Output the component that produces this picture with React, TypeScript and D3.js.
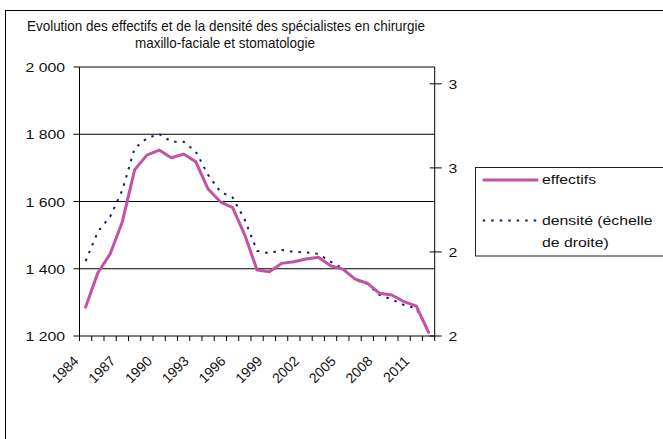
import React from "react";
import * as d3 from "d3";

// Years on the category axis
const years: number[] = d3.range(1984, 2013);

// Number of specialists (left scale)
const effectifs: number[] = [
  1286, 1388, 1444, 1540, 1694, 1738, 1753, 1730, 1741, 1718,
  1637, 1599, 1582, 1500, 1396, 1391, 1416, 1421, 1429, 1434,
  1409, 1399, 1369, 1357, 1327, 1322, 1302, 1289, 1211,
];

// Density per 100 000 inhabitants (right scale)
const densite: number[] = [
  2.223, 2.31, 2.355, 2.434, 2.558, 2.588, 2.601, 2.578, 2.578, 2.548,
  2.479, 2.429, 2.412, 2.345, 2.253, 2.246, 2.256, 2.25, 2.249, 2.244,
  2.221, 2.201, 2.167, 2.155, 2.122, 2.109, 2.092, 2.082, 2.013,
];

const leftTicks: number[] = [1200, 1400, 1600, 1800, 2000];
const rightTicks: number[] = [2.0, 2.25, 2.5, 2.75];
const labelYears: number[] = [1984, 1987, 1990, 1993, 1996, 1999, 2002, 2005, 2008, 2011];

const titleLines: string[] = [
  "Evolution des effectifs et de la densité des spécialistes en chirurgie",
  "maxillo-faciale et stomatologie",
];
const legendLabels: string[] = ["effectifs", "densité (échelle", "de droite)"];

const W = 663;
const H = 439;
const plot = { left: 79.5, right: 434.7, top: 67, bottom: 336 };
const FONT = "'Liberation Sans', Arial, sans-serif";
const PINK = "#C252A5";
const NAVY = "#1A1A70";
const SX = 1.17;

const frFormat = d3.formatLocale({
  decimal: ",",
  thousands: "\u00a0",
  grouping: [3],
  currency: ["", " €"],
}).format(",.0f");

export default function App() {
  const x = d3
    .scalePoint<number>()
    .domain(years)
    .range([plot.left, plot.right])
    .padding(0.5);
  const step = x.step();
  const yL = d3.scaleLinear().domain([1200, 2000]).range([plot.bottom, plot.top]);
  const yR = d3.scaleLinear().domain([2.0, 2.8]).range([plot.bottom, plot.top]);

  const lineL = d3
    .line<number>()
    .x((_, i) => x(years[i]) as number)
    .y((d) => yL(d));
  const lineR = d3
    .line<number>()
    .x((_, i) => x(years[i]) as number)
    .y((d) => yR(d));

  const boundaries = d3.range(years.length + 1).map((i) => plot.left + i * step);

  return (
    <svg
      width={W}
      height={H}
      style={{ position: "absolute", left: 0, top: 0, background: "#fff" }}
      fontFamily={FONT}
    >
      <rect x={0} y={0} width={W} height={H} fill="#fff" />
      {/* outer chart frame */}
      <rect x={5.5} y={10.5} width={W + 20} height={H + 20} fill="none" stroke="#000" strokeWidth={1} />

      {/* title */}
      <text x={27} y={31} fontSize={15} fill="#111" textLength={398} lengthAdjust="spacingAndGlyphs">
        {titleLines[0]}
      </text>
      <text x={135} y={47.5} fontSize={15} fill="#111" textLength={180} lengthAdjust="spacingAndGlyphs">
        {titleLines[1]}
      </text>

      {/* horizontal gridlines */}
      {leftTicks.slice(1).map((t) => (
        <line key={t} x1={plot.left} x2={plot.right} y1={yL(t)} y2={yL(t)} stroke="#000" strokeWidth={1} />
      ))}

      {/* axes */}
      <line x1={plot.left} x2={plot.left} y1={plot.top} y2={plot.bottom} stroke="#000" />
      <line x1={plot.right} x2={plot.right} y1={plot.top} y2={plot.bottom} stroke="#000" />
      <line x1={plot.left} x2={plot.right} y1={plot.bottom} y2={plot.bottom} stroke="#000" />

      {/* left ticks and labels */}
      {leftTicks.map((t) => (
        <g key={t}>
          <line x1={plot.left - 6} x2={plot.left} y1={yL(t)} y2={yL(t)} stroke="#000" />
          <text
            transform={`translate(65,${yL(t) + 5}) scale(${SX},1)`}
            textAnchor="end"
            fontSize={13.5}
            fill="#111"
          >
            {frFormat(t)}
          </text>
        </g>
      ))}

      {/* right ticks and labels */}
      {rightTicks.map((t) => (
        <g key={t}>
          <line x1={plot.right - 5} x2={plot.right + 7} y1={yR(t)} y2={yR(t)} stroke="#000" />
          <text
            transform={`translate(448.5,${yR(t) + 5}) scale(${SX},1)`}
            fontSize={13.5}
            fill="#111"
          >
            {String(Math.round(t))}
          </text>
        </g>
      ))}

      {/* category ticks */}
      {boundaries.map((bx, i) => (
        <line key={i} x1={bx} x2={bx} y1={plot.bottom} y2={plot.bottom + 5} stroke="#000" />
      ))}

      {/* rotated year labels */}
      {labelYears.map((yr) => {
        const cx = x(yr) as number;
        return (
          <text
            key={yr}
            transform={`translate(${cx - 6},362) rotate(-45)`}
            textAnchor="end"
            fontSize={14}
            fill="#111"
          >
            {yr}
          </text>
        );
      })}

      {/* series */}
      <path d={lineR(densite) || ""} fill="none" stroke={NAVY} strokeWidth={2} strokeDasharray="2.5 6" />
      <path
        d={lineL(effectifs) || ""}
        fill="none"
        stroke={PINK}
        strokeWidth={3}
        strokeLinejoin="round"
        strokeLinecap="round"
      />

      {/* legend */}
      <rect x={475.5} y={167.5} width={220} height={88.5} fill="#fff" stroke="#222" strokeWidth={1} />
      <line x1={482.7} x2={538.3} y1={180} y2={180} stroke={PINK} strokeWidth={3} />
      <text transform={`translate(542,184) scale(${SX},1)`} fontSize={13.5} fill="#111">
        {legendLabels[0]}
      </text>
      <line x1={482.7} x2={538} y1={220.5} y2={220.5} stroke={NAVY} strokeWidth={2} strokeDasharray="2.5 6" />
      <text transform={`translate(542,225) scale(${SX},1)`} fontSize={13.5} fill="#111">
        {legendLabels[1]}
      </text>
      <text transform={`translate(542,246.5) scale(${SX},1)`} fontSize={13.5} fill="#111">
        {legendLabels[2]}
      </text>
    </svg>
  );
}
